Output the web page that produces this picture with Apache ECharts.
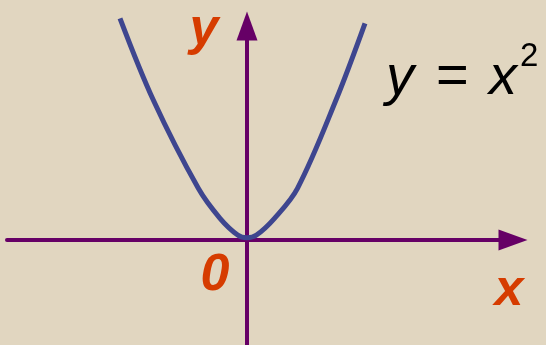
<!DOCTYPE html>
<html>
<head>
<meta charset="utf-8">
<script src="https://cdn.jsdelivr.net/npm/echarts@6/dist/echarts.min.js"></script>
<style>
  html, body { margin: 0; padding: 0; background: #e1d6c0; }
  #chart { width: 546px; height: 345px; }
</style>
</head>
<body>
<div id="chart"></div>
<script>
// points (left arm, vertex, right arm), units of the sketch
const curveX = [-1.27, -0.937, -0.487, -0.27, -0.093, 0, 0.095, 0.275, 0.505, 0.89, 1.18]
const curveY = [2.217, 1.40, 0.517, 0.217, 0.05, 0.023, 0.05, 0.217, 0.517, 1.40, 2.167]
const axisNames = ['x', 'y']
const originLabel = '0'
const formulaParts = ['y', '=', 'x', '2']

const axisColor = '#660066'
const labelColor = '#d63c00'
const curveColor = '#3e468f'

let chart = echarts.init(document.getElementById('chart'))

const hiddenBits = {
    axisTick: { show: false },
    axisLabel: { show: false },
    splitLine: { show: false }
}

let option = {
    backgroundColor: '#e1d6c0',
    animation: false,
    grid: { left: 7, right: 33, top: 26, bottom: 0 },
    xAxis: {
        type: 'value',
        min: -2.40,
        max: 2.66,
        axisLine: {
            onZero: true,
            symbol: ['none', 'triangle'],
            symbolSize: [21, 29],
            lineStyle: { color: axisColor, width: 4 }
        },
        ...hiddenBits
    },
    yAxis: {
        type: 'value',
        min: -1.05,
        max: 2.14,
        axisLine: {
            onZero: true,
            symbol: ['none', 'triangle'],
            symbolSize: [21, 29],
            lineStyle: { color: axisColor, width: 4 }
        },
        ...hiddenBits
    },
    series: [{
        type: 'line',
        data: curveX.map((x, i) => [x, curveY[i]]),
        smooth: 0.35,
        showSymbol: false,
        clip: false,
        z: 5,
        lineStyle: { color: curveColor, width: 5 }
    }],
    graphic: [
        {
            type: 'text', z: 10,
            style: { text: axisNames[1], x: 204, y: 30, textAlign: 'center', textVerticalAlign: 'middle',
                font: 'italic bold 52px "Liberation Sans", Arial, sans-serif', fill: labelColor }
        },
        {
            type: 'text', z: 10,
            style: { text: axisNames[0], x: 509, y: 291, textAlign: 'center', textVerticalAlign: 'middle',
                font: 'italic bold 52px "Liberation Sans", Arial, sans-serif', fill: labelColor }
        },
        {
            type: 'text', z: 10,
            style: { text: originLabel, x: 215, y: 276, textAlign: 'center', textVerticalAlign: 'middle',
                font: 'italic bold 52px "Liberation Sans", Arial, sans-serif', fill: labelColor }
        },
        // formula y = x²
        {
            type: 'text', z: 10,
            style: { text: formulaParts[0], x: 386, y: 78, textAlign: 'left', textVerticalAlign: 'middle',
                font: 'italic 56px "Liberation Sans", Arial, sans-serif', fill: '#000' }
        },
        {
            type: 'text', z: 10,
            style: { text: formulaParts[1], x: 436, y: 78, textAlign: 'left', textVerticalAlign: 'middle',
                font: '56px "Liberation Sans", Arial, sans-serif', fill: '#000' }
        },
        {
            type: 'text', z: 10,
            style: { text: formulaParts[2], x: 489, y: 78, textAlign: 'left', textVerticalAlign: 'middle',
                font: 'italic 56px "Liberation Sans", Arial, sans-serif', fill: '#000' }
        },
        {
            type: 'text', z: 10,
            style: { text: formulaParts[3], x: 520, y: 57, textAlign: 'left', textVerticalAlign: 'middle',
                font: '33px "Liberation Sans", Arial, sans-serif', fill: '#000' }
        }
    ]
}

chart.setOption(option)
</script>
</body>
</html>
